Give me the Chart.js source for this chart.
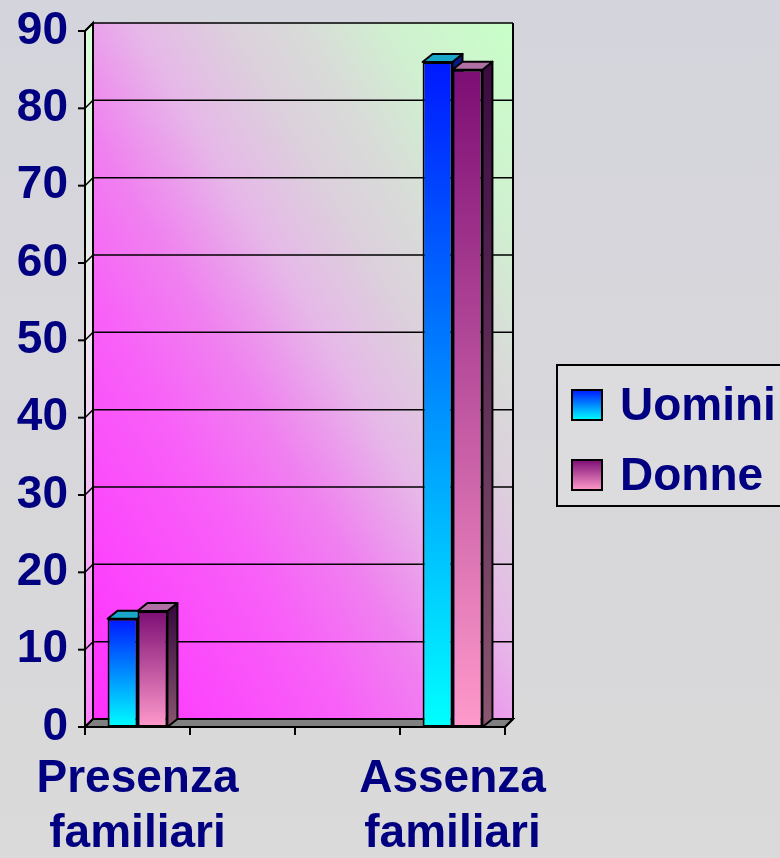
<!DOCTYPE html>
<html>
<head>
<meta charset="utf-8">
<script src="https://cdn.jsdelivr.net/npm/chart.js@4.4.0/dist/chart.umd.min.js"></script>
<style>
  html, body { margin: 0; padding: 0; }
  body { width: 780px; height: 858px; overflow: hidden; background: linear-gradient(#d4d4dc, #dadada); }
</style>
</head>
<body>
<canvas id="chart" width="780" height="858"></canvas>
<script>
// categorie (le due centrali sono vuote come nell'originale)
const categories = [['Presenza', 'familiari'], '', '', ['Assenza', 'familiari']];
const seriesNames = ['Uomini', 'Donne'];
const uomini = [14, null, null, 86];
const donne = [15, null, null, 85];
const yMin = 0;
const yMax = 90;
const yStep = 10;

const NAVY = '#000080';
const FONT = { family: "'Liberation Sans', Arial, sans-serif", weight: 'bold', size: 46, lineHeight: 1.2 };

// colori delle facce 3D
const uominiColors = { top: '#0018ff', bottom: '#00ffff', cap: '#1aa6c8', sideTop: '#061a8c', sideBottom: '#0a2aa0' };
const donneColors = { top: '#7c0e74', bottom: '#ff9acb', cap: '#b070a4', sideTop: '#3a0c40', sideBottom: '#8a5670' };
const seriesColors = [uominiColors, donneColors];

const WALL = 8;              // profondita' pareti
const BAR_DX = 10, BAR_DY = 8; // profondita' barre

function frontFill(col) {
  return (c) => {
    const chart = c.chart;
    if (!chart.chartArea || c.raw == null) return col.bottom;
    const ys = chart.scales.y;
    const g = chart.ctx.createLinearGradient(0, ys.getPixelForValue(c.raw), 0, ys.getPixelForValue(0));
    g.addColorStop(0, col.top);
    g.addColorStop(1, col.bottom);
    return g;
  };
}

function poly(ctx, pts, fill) {
  ctx.beginPath();
  ctx.moveTo(pts[0][0], pts[0][1]);
  for (let i = 1; i < pts.length; i++) ctx.lineTo(pts[i][0], pts[i][1]);
  ctx.closePath();
  ctx.fillStyle = fill;
  ctx.fill();
  ctx.stroke();
}

//Pareti, pavimento e griglia
const wallsPlugin = {
  id: 'walls',
  beforeDraw(chart) {
    const { ctx, chartArea: a, scales: { y } } = chart;
    const d = WALL;
    const w = a.right - a.left, h = a.bottom - a.top;
    ctx.save();

    // parete di fondo: sfumatura diagonale da angolo ad angolo
    ctx.save();
    ctx.translate(a.left + d, a.top - d);
    ctx.scale(w, h);
    const g = ctx.createLinearGradient(0, 1, 1, 0);
    g.addColorStop(0, '#ff30ff');
    g.addColorStop(0.3, '#f860f8');
    g.addColorStop(0.42, '#f080f0');
    g.addColorStop(0.55, '#e6b8e8');
    g.addColorStop(0.66, '#dcd0dc');
    g.addColorStop(0.75, '#d8dcd8');
    g.addColorStop(0.85, '#d0f0d0');
    g.addColorStop(1, '#c8ffc8');
    ctx.fillStyle = g;
    ctx.fillRect(0, 0, 1, 1);
    ctx.restore();

    ctx.strokeStyle = '#000';
    ctx.lineWidth = 2;
    // parete sinistra
    const gl = ctx.createLinearGradient(0, a.top, 0, a.bottom);
    gl.addColorStop(0, '#d8ffd8');
    gl.addColorStop(0.45, '#f0e4f0');
    gl.addColorStop(1, '#ff80ff');
    poly(ctx, [[a.left, a.top], [a.left + d, a.top - d], [a.left + d, a.bottom - d], [a.left, a.bottom]], gl);

    // pavimento
    poly(ctx, [[a.left, a.bottom], [a.right, a.bottom], [a.right + d, a.bottom - d], [a.left + d, a.bottom - d]], '#808080');

    // griglia
    ctx.lineWidth = 1.5;
    for (let v = yMin; v <= yMax; v += yStep) {
      const py = y.getPixelForValue(v);
      ctx.beginPath();
      ctx.moveTo(a.left, py);
      ctx.lineTo(a.left + d, py - d);
      ctx.lineTo(a.right + d, py - d);
      ctx.stroke();
    }
    // bordo destro parete
    ctx.lineWidth = 2;
    ctx.beginPath();
    ctx.moveTo(a.right + d, a.top - d);
    ctx.lineTo(a.right + d, a.bottom - d);
    ctx.stroke();
    ctx.restore();
  },
  //Facce laterali e superiori delle barre
  beforeDatasetsDraw(chart) {
    const { ctx, scales: { y } } = chart;
    const base = y.getPixelForValue(0);
    ctx.save();
    ctx.strokeStyle = '#000';
    ctx.lineWidth = 2;
    ctx.lineJoin = 'round';
    categories.forEach((cat, i) => {
      chart.data.datasets.forEach((ds, di) => {
        if (ds.data[i] == null) return;
        const bar = chart.getDatasetMeta(di).data[i];
        const p = bar.getProps(['x', 'y', 'width'], true);
        const x0 = p.x - p.width / 2, x1 = p.x + p.width / 2, top = p.y;
        const col = seriesColors[di];
        const gs = ctx.createLinearGradient(0, top, 0, base);
        gs.addColorStop(0, col.sideTop);
        gs.addColorStop(1, col.sideBottom);
        poly(ctx, [[x1, top], [x1 + BAR_DX, top - BAR_DY], [x1 + BAR_DX, base - BAR_DY], [x1, base]], gs);
        poly(ctx, [[x0, top], [x1, top], [x1 + BAR_DX, top - BAR_DY], [x0 + BAR_DX, top - BAR_DY]], col.cap);
      });
    });
    ctx.restore();
  },
  //Assi e legenda
  afterDraw(chart) {
    const { ctx, chartArea: a, scales: { y } } = chart;
    ctx.save();
    ctx.strokeStyle = '#000';
    ctx.lineWidth = 2;
    ctx.beginPath();
    ctx.moveTo(a.left, a.top);
    ctx.lineTo(a.left, a.bottom);
    ctx.lineTo(a.right, a.bottom);
    ctx.lineTo(a.right + WALL, a.bottom - WALL);
    ctx.stroke();
    for (let v = yMin; v <= yMax; v += yStep) {
      const py = y.getPixelForValue(v);
      ctx.beginPath();
      ctx.moveTo(a.left - 7, py);
      ctx.lineTo(a.left, py);
      ctx.stroke();
    }
    const n = categories.length;
    for (let i = 0; i <= n; i++) {
      const px = a.left + (a.right - a.left) * i / n;
      ctx.beginPath();
      ctx.moveTo(px, a.bottom);
      ctx.lineTo(px, a.bottom + 8);
      ctx.stroke();
    }

    // legenda
    const lx = a.right + 52, ly = 365;
    ctx.fillStyle = '#dcdcde';
    ctx.fillRect(lx, ly, 260, 141);
    ctx.strokeRect(lx, ly, 260, 141);
    ctx.font = `${FONT.weight} ${FONT.size}px ${FONT.family}`;
    ctx.textBaseline = 'middle';
    seriesNames.forEach((name, k) => {
      const cy = ly + 40 + k * 70;
      const col = seriesColors[k];
      const g = ctx.createLinearGradient(0, cy - 15, 0, cy + 15);
      g.addColorStop(0, col.top);
      g.addColorStop(1, col.bottom);
      ctx.fillStyle = g;
      ctx.fillRect(lx + 15, cy - 15, 30, 30);
      ctx.strokeRect(lx + 15, cy - 15, 30, 30);
      ctx.fillStyle = NAVY;
      ctx.fillText(name, lx + 63, cy + 2);
    });
    ctx.restore();
  }
};

new Chart(document.getElementById('chart'), {
  type: 'bar',
  data: {
    labels: categories,
    datasets: [
      {
        label: seriesNames[0],
        data: uomini,
        backgroundColor: frontFill(uominiColors),
        borderColor: '#000',
        borderWidth: 2,
        borderSkipped: false,
      },
      {
        label: seriesNames[1],
        data: donne,
        backgroundColor: frontFill(donneColors),
        borderColor: '#000',
        borderWidth: 2,
        borderSkipped: false,
      },
    ],
  },
  options: {
    responsive: false,
    devicePixelRatio: 1,
    animation: false,
    categoryPercentage: 0.57,
    barPercentage: 1,
    layout: { padding: { top: 31, right: 275, left: 0, bottom: 0 } },
    plugins: {
      legend: { display: false },
      tooltip: { enabled: false },
    },
    scales: {
      x: {
        grid: { display: false, drawTicks: false },
        border: { display: false },
        ticks: { font: FONT, color: NAVY, padding: 25, autoSkip: false, maxRotation: 0 },
        afterFit: (s) => { s.height = 131; s.paddingLeft = 0; s.paddingRight = 0; },
      },
      y: {
        min: yMin,
        max: yMax,
        grid: { display: false, drawTicks: false },
        border: { display: false },
        ticks: { stepSize: yStep, font: FONT, color: NAVY, padding: 17 },
        afterFit: (s) => { s.width = 85; s.paddingTop = 0; s.paddingBottom = 0; },
      },
    },
  },
  plugins: [wallsPlugin],
});
</script>
</body>
</html>
